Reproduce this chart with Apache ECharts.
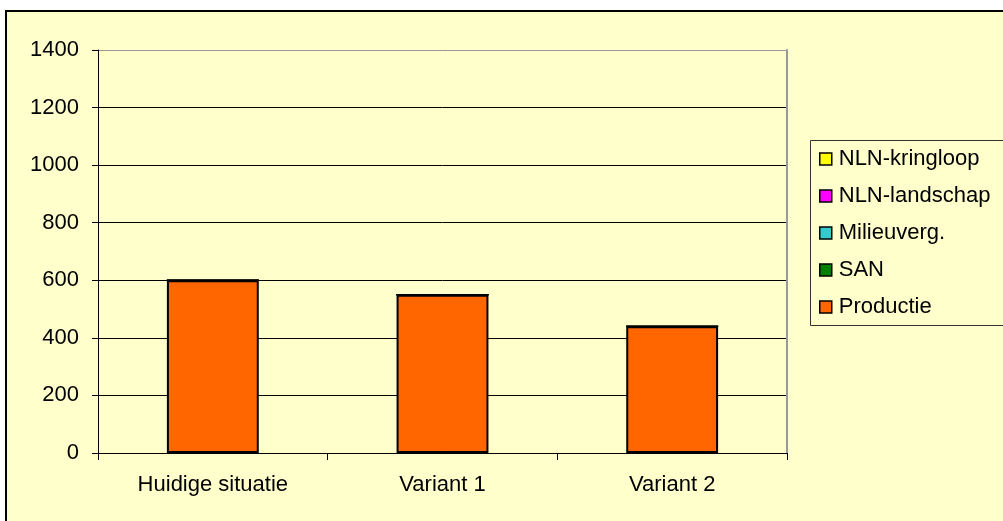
<!DOCTYPE html>
<html><head><meta charset="utf-8">
<script src="https://cdn.jsdelivr.net/npm/echarts@6/dist/echarts.min.js"></script>
<style>html,body{margin:0;padding:0;background:#fff}#c{width:1003px;height:521px}</style>
</head><body><div id="c"></div>
<script>
const categories = ['Huidige situatie', 'Variant 1', 'Variant 2'];
const productie = [600, 550, 440];
const san = [0, 0, 0];
const milieuverg = [0, 0, 0];
const nlnLandschap = [0, 0, 0];
const nlnKringloop = [0, 0, 0];
const seriesNames = ['Productie', 'SAN', 'Milieuverg.', 'NLN-landschap', 'NLN-kringloop'];
const seriesColors = ['#FF6600', '#008000', '#33CCCC', '#FF00FF', '#FFFF00'];
const seriesValues = [productie, san, milieuverg, nlnLandschap, nlnKringloop];
const legendOrder = ['NLN-kringloop', 'NLN-landschap', 'Milieuverg.', 'SAN', 'Productie'];

const FONT = '"Liberation Sans", Arial, sans-serif';
const FS = 22;
const chart = echarts.init(document.getElementById('c'), null, {renderer: 'canvas'});
chart.setOption({
  backgroundColor: '#ffffff',
  animation: false,
  textStyle: {fontFamily: FONT},
  graphic: [
    {type: 'rect', z: -10, shape: {x: 6, y: 11, width: 1020, height: 530},
     style: {fill: '#FFFFCC', stroke: '#000', lineWidth: 2}},
    {type: 'rect', z: 5, shape: {x: 810.5, y: 140.5, width: 220, height: 185},
     style: {fill: 'none', stroke: '#333', lineWidth: 1}}
  ],
  legend: {
    orient: 'vertical', left: 810, top: 140, padding: [8, 8, 8, 9],
    data: legendOrder, itemWidth: 12, itemHeight: 12, itemGap: 15,
    icon: 'rect',
    itemStyle: {borderColor: '#000', borderWidth: 1.5},
    textStyle: {fontSize: FS, color: '#000', fontFamily: FONT, padding: [0, 0, 0, 2]}
  },
  grid: {left: 98, right: 216, top: 50, bottom: 68},
  xAxis: [{
    type: 'category', data: categories,
    axisLine: {lineStyle: {color: '#000', width: 1}},
    axisTick: {show: true, length: 7, lineStyle: {color: '#000'}},
    axisLabel: {fontSize: FS, color: '#000', margin: 21, fontFamily: FONT}
  }],
  yAxis: [{
    type: 'value', min: 0, max: 1400, interval: 200,
    axisLine: {show: true, lineStyle: {color: '#000', width: 1}},
    axisTick: {show: true, length: 6, lineStyle: {color: '#000'}},
    axisLabel: {fontSize: FS, color: '#000', margin: 19, fontFamily: FONT, formatter: v => String(v)},
    splitLine: {show: true, lineStyle: {color: ['#000','#000','#000','#000','#000','#000','#000','#999'], width: 1}}
  }, {
    type: 'value', min: 0, max: 1400, interval: 200, position: 'right',
    axisLine: {show: true, lineStyle: {color: '#999', width: 2}},
    axisTick: {show: false}, axisLabel: {show: false}, splitLine: {show: false}
  }],
  series: seriesNames.map((n, i) => ({
    name: n, type: 'bar', stack: 'total', barWidth: '40%',
    data: seriesValues[i],
    itemStyle: {color: seriesColors[i], borderColor: '#000', borderWidth: i === 0 ? 2 : 1}
  }))
});
</script></body></html>
